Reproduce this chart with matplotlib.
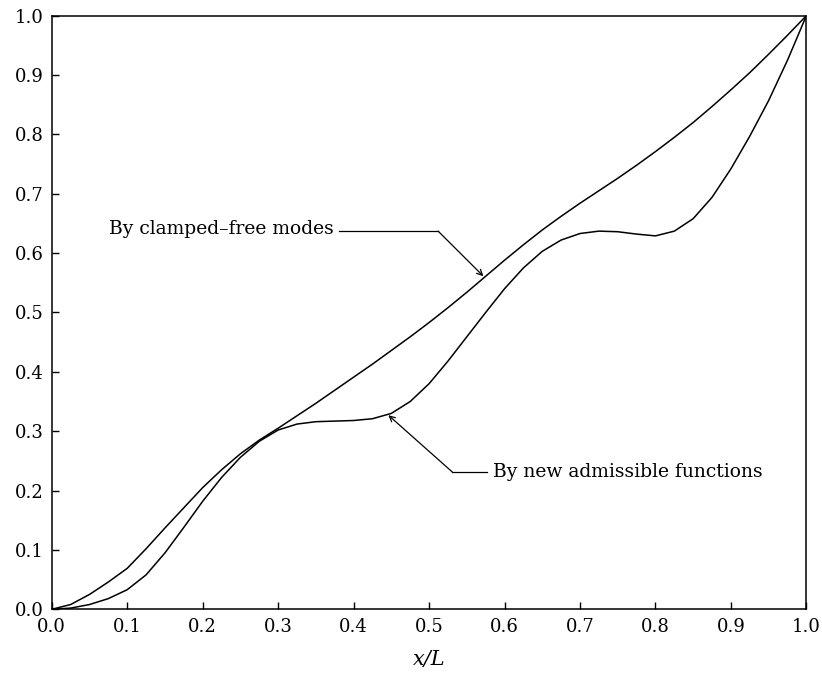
import matplotlib.pyplot as plt
import numpy as np

# x/L sample positions (every 0.025)
x = np.arange(41) * 0.025

# clamped-free modes curve
y_clamped = [0.0, 0.008, 0.025, 0.046, 0.069, 0.102, 0.137, 0.171, 0.205, 0.235,
             0.262, 0.285, 0.305, 0.326, 0.347, 0.369, 0.391, 0.413, 0.436, 0.459,
             0.483, 0.508, 0.534, 0.561, 0.588, 0.614, 0.639, 0.662, 0.684, 0.705,
             0.726, 0.748, 0.771, 0.795, 0.82, 0.847, 0.875, 0.904, 0.935, 0.967, 1.0]

# new admissible functions curve
y_new = [0.0, 0.002, 0.008, 0.018, 0.033, 0.058, 0.095, 0.138, 0.182, 0.222,
         0.256, 0.283, 0.302, 0.312, 0.316, 0.317, 0.318, 0.321, 0.33, 0.35,
         0.38, 0.418, 0.459, 0.5, 0.54, 0.575, 0.603, 0.622, 0.633, 0.637,
         0.636, 0.632, 0.629, 0.637, 0.658, 0.694, 0.742, 0.797, 0.857, 0.925, 1.0]

ticks = np.arange(11) * 0.1
tick_labels = ['%.1f' % t for t in ticks]

plt.rcParams['font.family'] = ['DejaVu Serif']

fig = plt.figure(figsize=(8.22, 6.80), dpi=100)
ax = fig.add_axes([0.063, 0.104, 0.918, 0.873])

ax.plot(x, y_clamped, color='black', lw=1.1)
ax.plot(x, y_new, color='black', lw=1.1)

ax.set_xlim(0, 1)
ax.set_ylim(0, 1)
ax.set_xticks(ticks)
ax.set_xticklabels(tick_labels)
ax.set_yticks(ticks)
ax.set_yticklabels(tick_labels)
ax.tick_params(direction='in', length=5, width=1, labelsize=13, pad=6)
for s in ax.spines.values():
    s.set_linewidth(1.1)
ax.set_xlabel('x/L', fontsize=15, fontstyle='italic', labelpad=10)

# annotation: clamped-free modes
ax.text(0.373, 0.64, 'By clamped\u2013free modes', fontsize=13.5,
        ha='right', va='center')
ax.plot([0.38, 0.512], [0.637, 0.637], color='black', lw=0.9)
ax.annotate('', xy=(0.572, 0.561), xytext=(0.512, 0.637),
            arrowprops=dict(arrowstyle='->', lw=0.9, color='black',
                            shrinkA=0, shrinkB=0))

# annotation: new admissible functions
ax.text(0.585, 0.231, 'By new admissible functions', fontsize=13.5,
        ha='left', va='center')
ax.plot([0.531, 0.577], [0.231, 0.231], color='black', lw=0.9)
ax.annotate('', xy=(0.446, 0.327), xytext=(0.531, 0.231),
            arrowprops=dict(arrowstyle='->', lw=0.9, color='black',
                            shrinkA=0, shrinkB=0))

plt.savefig('out.png', dpi=100)
